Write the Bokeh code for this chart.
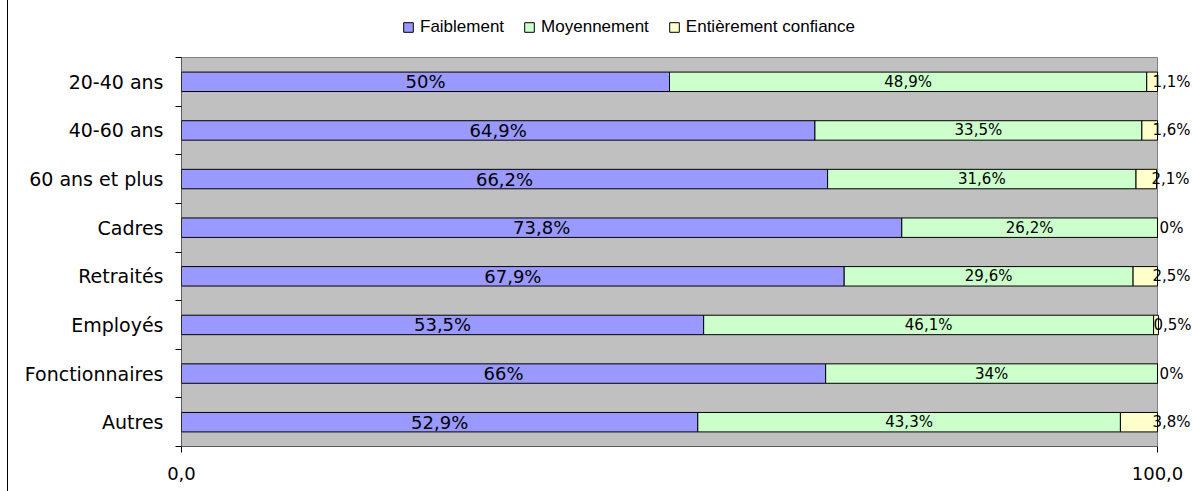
from bokeh.plotting import figure
from bokeh.models import ColumnDataSource, Range1d, FixedTicker
from bokeh.core.properties import value
from bokeh.embed import file_html
from bokeh.resources import INLINE

categories = ["20-40 ans", "40-60 ans", "60 ans et plus", "Cadres", "Retraités",
              "Employés", "Fonctionnaires", "Autres"]
faiblement = [50.0, 64.9, 66.2, 73.8, 67.9, 53.5, 66.0, 52.9]
moyennement = [48.9, 33.5, 31.6, 26.2, 29.6, 46.1, 34.0, 43.3]
entierement = [1.1, 1.6, 2.1, 0.0, 2.5, 0.5, 0.0, 3.8]
series_names = ["Faiblement", "Moyennement", "Entièrement confiance"]
x_tick_values = [0, 100]
x_tick_labels = ["0,0", "100,0"]

colors = ["#9999FF", "#CCFFCC", "#FFFFCC"]
FONT = "DejaVu Sans"
LFONT = "Liberation Sans"

n = len(categories)
ypos = [n - i - 0.5 for i in range(n)]
xmin, xmax = min(x_tick_values), max(x_tick_values)

# layout: canvas starts at page x=8 (7px margin + 1px left border)
W, H = 1184, 491
LEFT, BOTTOM = 173, 45
plot_px_w = 976          # pixel width of the 0..100 area
plot_px_h = 389          # pixel height of the category area
frame_w = W - LEFT
frame_h = H - BOTTOM


def fmt(v):
    return ("%g" % v).replace(".", ",") + "%"


src = ColumnDataSource(dict(
    y=ypos, f=faiblement, m=moyennement, e=entierement,
    fx=[v / 2 for v in faiblement],
    mx=[a + b / 2 for a, b in zip(faiblement, moyennement)],
    ex=[a + b + c for a, b, c in zip(faiblement, moyennement, entierement)],
    fl=[fmt(v) for v in faiblement],
    ml=[fmt(v) for v in moyennement],
    el=[fmt(v) for v in entierement],
))

p = figure(width=W, height=H, output_backend="svg", toolbar_location=None,
           x_range=Range1d(xmin, xmin + (xmax - xmin) * frame_w / plot_px_w),
           y_range=Range1d(0, n * frame_h / plot_px_h),
           min_border_left=LEFT, min_border_right=0, min_border_top=0,
           min_border_bottom=BOTTOM)
p.styles = {"margin-left": "7px", "border-left": "1px solid black"}

p.background_fill_color = "white"
p.border_fill_color = "white"
p.outline_line_color = None
p.grid.visible = False

# grey plot area
p.quad(left=[xmin], right=[xmax], bottom=[0], top=[n],
       fill_color="#C0C0C0", line_color="#808080", line_width=1)

rs = p.hbar_stack(["f", "m", "e"], y="y", height=0.4, fill_color=colors,
                  line_color="black", line_width=1, source=src,
                  legend_label=series_names)

# axis lines (only along the plot area)
p.segment(x0=[xmin, xmin], y0=[0, 0], x1=[xmin, xmax], y1=[n, 0],
          line_color="black", line_width=1)

p.text(x="fx", y="y", text="fl", source=src, text_align="center",
       text_baseline="middle", text_font=value(FONT), text_font_size="18px",
       text_color="black")
p.text(x="mx", y="y", text="ml", source=src, text_align="center",
       text_baseline="middle", text_font=value(FONT), text_font_size="15px",
       text_color="black")
p.text(x="ex", y="y", text="el", source=src, text_align="center",
       text_baseline="middle", text_font=value(FONT), text_font_size="15px",
       text_color="black", x_offset=14)

xa = p.xaxis[0]
xa.ticker = FixedTicker(ticks=x_tick_values)
xa.major_label_overrides = {v: l for v, l in zip(x_tick_values, x_tick_labels)}
xa.major_tick_out = 6
xa.major_tick_in = 0
xa.minor_tick_out = 0
xa.minor_tick_in = 0
xa.major_tick_line_color = "black"
xa.major_label_standoff = 14
xa.major_label_text_font = FONT
xa.major_label_text_font_size = "18px"
xa.major_label_text_color = "black"
xa.axis_line_color = None

ya = p.yaxis[0]
ya.ticker = FixedTicker(ticks=ypos, minor_ticks=list(range(n + 1)))
ya.major_label_overrides = {y: c for y, c in zip(ypos, categories)}
ya.major_tick_out = 0
ya.major_tick_in = 0
ya.minor_tick_out = 6
ya.minor_tick_in = 0
ya.minor_tick_line_color = "black"
ya.major_label_standoff = 12
ya.major_label_text_font = FONT
ya.major_label_text_font_size = "19px"
ya.major_label_text_color = "black"
ya.axis_line_color = None

lg = p.legend[0]
lg.orientation = "horizontal"
lg.location = (221, 409)
lg.background_fill_alpha = 0
lg.border_line_alpha = 0
lg.glyph_width = 12
lg.glyph_height = 12
lg.label_text_font = LFONT
lg.label_text_font_size = "17px"
lg.label_text_color = "black"
lg.label_standoff = 6
lg.spacing = 19
lg.padding = 0
lg.margin = 0

open("out.html", "w").write(file_html(p, INLINE))
